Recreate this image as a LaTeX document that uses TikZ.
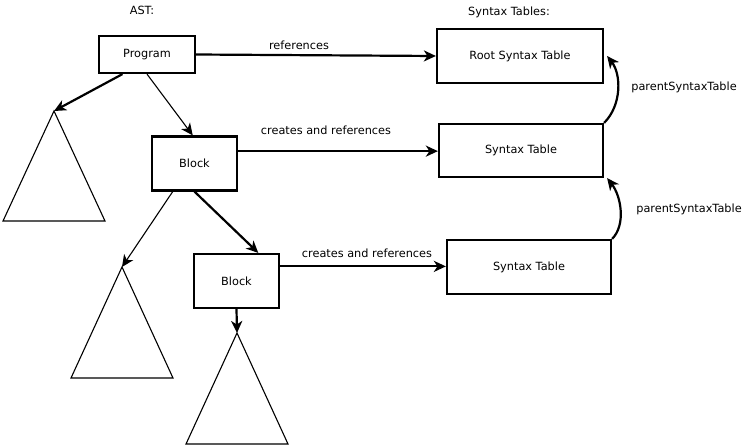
\documentclass[tikz,border=0pt]{standalone}
\usepackage{fontspec}
\setmainfont{DejaVu Sans}
\usetikzlibrary{arrows.meta,calc}
\begin{document}
\begin{tikzpicture}[x=1pt,y=-1pt,
  every node/.style={font=\fontsize{11.3}{13}\selectfont},
  box/.style={draw,line width=2.2pt,rectangle,inner sep=0pt},
  thickarrow/.style={line width=2.2pt,-{Stealth[length=12pt,width=11pt,inset=3.5pt]}},
  thinarrow/.style={line width=1.1pt,-{Stealth[length=12pt,width=11pt,inset=3.5pt]}},
  tri/.style={line width=1.1pt,line join=miter},
  lbl/.style={inner sep=0pt}]
\useasboundingbox (0,0) rectangle (743,447);
% boxes
\node[box,minimum width=96pt,minimum height=37pt] (prog) at (147,54.5) {Program};
\node[box,minimum width=85pt,minimum height=54pt] (b1) at (194.5,163.5) {Block};
\node[box,minimum width=85pt,minimum height=54pt] (b2) at (236.5,281) {Block};
\node[box,minimum width=166pt,minimum height=54pt] (root) at (520,56) {Root Syntax Table};
\node[box,minimum width=164pt,minimum height=53pt] (st1) at (521,150.5) {Syntax Table};
\node[box,minimum width=164pt,minimum height=54pt] (st2) at (529,267) {Syntax Table};
% headings
\node[lbl] (ast) at (142,10) {AST:};
\node[lbl] (tabs) at (509,12) {Syntax Tables:};
% triangles
\coordinate (t1) at (54,111);
\coordinate (t2) at (122,267);
\coordinate (t3) at (237,333);
\draw[tri] (t1) -- (3,221) -- (105,221) -- cycle;
\draw[tri] (t2) -- (71,378) -- (173,378) -- cycle;
\draw[tri] (t3) -- (186,444) -- (288,444) -- cycle;
% AST connectors
\draw[thickarrow] ($(prog.south west)!0.25!(prog.south east)$) -- (t1);
\draw[thinarrow] (prog.south) -- ($(b1.north west)!0.48!(b1.north east)$);
\draw[thinarrow] ($(b1.south west)!0.25!(b1.south east)$) -- (t2);
\draw[thickarrow] (b1.south) -- ($(b2.north west)!0.75!(b2.north east)$);
\draw[thickarrow] (b2.south) -- (t3);
% references
\draw[thickarrow] (prog.east) -- (root.west);
\coordinate (b1r) at ($(b1.north east)!0.28!(b1.south east)$);
\draw[thickarrow] (b1r) -- (b1r -| st1.west);
\coordinate (b2r) at ($(b2.north east)!0.24!(b2.south east)$);
\draw[thickarrow] (b2r) -- (b2r -| st2.west);
\node[lbl] (l1) at (299,45) {references};
\node[lbl] (l2) at (326,130) {creates and references};
\node[lbl] (l3) at (367,253) {creates and references};
% parent links
\draw[thickarrow] (st1.north east) .. controls +(18,-18) and +(14,18) .. ([xshift=3pt]root.east);
\draw[thickarrow] (st2.north east) .. controls +(14,-14) and +(14,18) .. ([xshift=3pt]st1.south east);
\node[lbl] (p1) at (684,87) {parentSyntaxTable};
\node[lbl] (p2) at (689,209) {parentSyntaxTable};
\end{tikzpicture}
\end{document}
